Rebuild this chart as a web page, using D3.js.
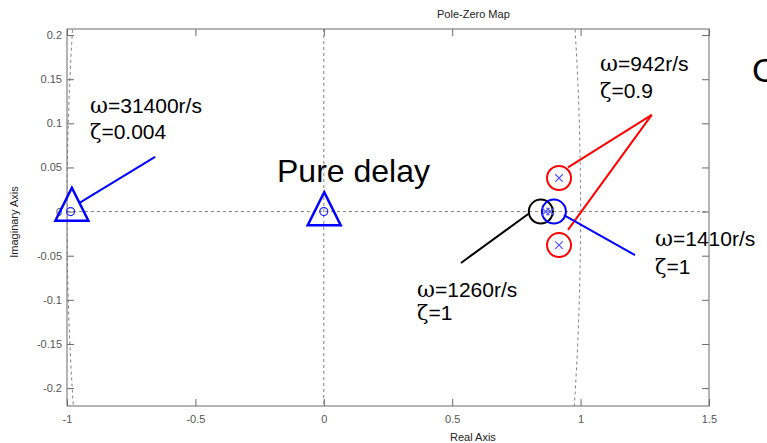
<!DOCTYPE html>
<html><head><meta charset="utf-8">
<script src="https://cdn.jsdelivr.net/npm/d3@7"></script>
<style>body{margin:0;background:#fff}svg{display:block}</style>
</head><body>
<svg id="c" width="767" height="443"></svg>
<script>
// ---- data ----
const xTicks = [-1, -0.5, 0, 0.5, 1, 1.5];
const yTicks = [-0.2, -0.15, -0.1, -0.05, 0, 0.05, 0.1, 0.15, 0.2];
const xTickLabels = ["-1", "-0.5", "0", "0.5", "1", "1.5"];
const yTickLabels = ["-0.2", "-0.15", "-0.1", "-0.05", "0", "0.05", "0.1", "0.15", "0.2"];
const zerosRe = [-0.986, 0.0];
const zerosIm = [0, 0];
const polesRe = [0.916, 0.916, 0.864, 0.882];
const polesIm = [0.038, -0.038, 0, 0];
const trianglesRe = [-0.981, 0.0016];
const trianglesIm = [0.0083, 0.0033];
const ringsRe = [0.916, 0.916, 0.845, 0.896];
const ringsIm = [0.038, -0.038, 0, 0];
const ringColors = ["#ff0000", "#ff0000", "#000000", "#0000ff"];
const leadersX1 = [-0.953, 0.951, 0.951, 0.796, 0.935];
const leadersY1 = [0.0097, 0.0502, -0.0208, -0.0027, -0.0039];
const leadersX2 = [-0.657, 1.277, 1.277, 0.534, 1.212];
const leadersY2 = [0.0619, 0.1095, 0.1095, -0.0582, -0.0492];
const leaderColors = ["#0000ff", "#ff0000", "#ff0000", "#000000", "#0000ff"];
const annW = ["31400r/s", "942r/s", "1410r/s", "1260r/s"];
const annZ = ["0.004", "0.9", "1", "1"];

// ---- layout ----
const svg = d3.select("#c");
const L = 67, R = 709, T = 29, B = 406;
const x = d3.scaleLinear().domain([-1, 1.5]).range([L, R]);
const y = d3.scaleLinear().domain([-0.2203, 0.2069]).range([B, T]);
const sans = "'Liberation Sans', Arial, sans-serif";
const serif = "'DejaVu Serif', 'Liberation Serif', serif";
const axisCol = "#6a6a6a";

svg.append("defs").append("clipPath").attr("id", "clip")
  .append("rect").attr("x", L).attr("y", T).attr("width", R - L).attr("height", B - T);

// grid: unit circle, axes through origin
const g = svg.append("g").attr("clip-path", "url(#clip)");
const dash = "3,3";
g.append("ellipse").attr("cx", x(0)).attr("cy", y(0))
  .attr("rx", x(1) - x(0)).attr("ry", y(0) - y(1))
  .attr("fill", "none").attr("stroke", "#808080").attr("stroke-dasharray", dash);
g.append("line").attr("x1", L).attr("x2", R).attr("y1", y(0)).attr("y2", y(0))
  .attr("stroke", "#808080").attr("stroke-dasharray", dash);
g.append("line").attr("x1", x(0)).attr("x2", x(0)).attr("y1", T).attr("y2", B)
  .attr("stroke", "#808080").attr("stroke-dasharray", dash);

// axes (MATLAB style box with inward ticks)
const tl = 7;
const axB = d3.axisBottom(x).tickValues(xTicks).tickFormat((d, i) => xTickLabels[i]).tickSize(-tl).tickPadding(9);
const axT = d3.axisTop(x).tickValues(xTicks).tickFormat("").tickSize(-tl);
const axL = d3.axisLeft(y).tickValues(yTicks).tickFormat((d, i) => yTickLabels[i]).tickSize(-tl).tickPadding(5);
const axR = d3.axisRight(y).tickValues(yTicks).tickFormat("").tickSize(-tl);
function style(sel) {
  sel.select(".domain").remove();
  sel.selectAll("line").attr("stroke", axisCol);
  sel.selectAll("text").attr("fill", "#555").style("font-family", sans).style("font-size", "11px");
}
svg.append("g").attr("transform", `translate(0,${B})`).call(axB).call(style);
svg.append("g").attr("transform", `translate(0,${T})`).call(axT).call(style);
svg.append("g").attr("transform", `translate(${L},0)`).call(axL).call(style);
svg.append("g").attr("transform", `translate(${R},0)`).call(axR).call(style);
svg.append("rect").attr("x", L).attr("y", T).attr("width", R - L).attr("height", B - T)
  .attr("fill", "none").attr("stroke", axisCol);

// titles
svg.append("text").attr("x", 437).attr("y", 18).text("Pole-Zero Map")
  .style("font-family", sans).style("font-size", "11px").attr("fill", "#222");
svg.append("text").attr("x", 450).attr("y", 441).text("Real Axis")
  .style("font-family", sans).style("font-size", "11px").attr("fill", "#222");
svg.append("text").attr("transform", "translate(18,222) rotate(-90)").attr("text-anchor", "middle")
  .text("Imaginary Axis").style("font-family", sans).style("font-size", "11px").attr("fill", "#222");

// leader lines
const lead = svg.append("g");
leadersX1.forEach((v, i) => {
  lead.append("line").attr("x1", x(v)).attr("y1", y(leadersY1[i]))
    .attr("x2", x(leadersX2[i])).attr("y2", y(leadersY2[i]))
    .attr("stroke", leaderColors[i]).attr("stroke-width", 2);
});

// highlight rings
ringsRe.forEach((v, i) => {
  svg.append("circle").attr("cx", x(v)).attr("cy", y(ringsIm[i])).attr("r", 12)
    .attr("fill", "none").attr("stroke", ringColors[i]).attr("stroke-width", 2);
});

// triangles
const th = 33, tw = 33;
trianglesRe.forEach((v, i) => {
  const cx = x(v), cy = y(trianglesIm[i]);
  svg.append("path")
    .attr("d", `M${cx},${cy - th / 2}L${cx + tw / 2},${cy + th / 2}L${cx - tw / 2},${cy + th / 2}Z`)
    .attr("fill", "none").attr("stroke", "#0000ff").attr("stroke-width", 2.5);
});

// zeros
zerosRe.forEach((v, i) => {
  svg.append("circle").attr("cx", x(v)).attr("cy", y(zerosIm[i])).attr("r", 4)
    .attr("fill", "none").attr("stroke", "#2020ff").attr("stroke-width", 1.2);
});
// poles
polesRe.forEach((v, i) => {
  const cx = x(v), cy = y(polesIm[i]), s = 3.8;
  svg.append("path").attr("d", `M${cx - s},${cy - s}L${cx + s},${cy + s}M${cx - s},${cy + s}L${cx + s},${cy - s}`)
    .attr("stroke", "#5050ff").attr("stroke-width", 1.2);
});

// annotations
const annPos = [[90, 113, 139], [600, 71, 98], [655, 246, 274], [417, 297, 320]];
annPos.forEach((p, i) => {
  const t1 = svg.append("text").attr("x", p[0]).attr("y", p[1]).style("font-size", "21px").attr("fill", "#000");
  t1.append("tspan").text("ω").style("font-family", serif).style("font-size", "22px");
  t1.append("tspan").text("=" + annW[i]).style("font-family", sans);
  const t2 = svg.append("text").attr("x", p[0]).attr("y", p[2]).style("font-size", "21px").attr("fill", "#000");
  t2.append("tspan").text("ζ").style("font-family", serif);
  t2.append("tspan").text("=" + annZ[i]).style("font-family", sans);
});
svg.append("text").attr("x", 277).attr("y", 182).text("Pure delay")
  .style("font-family", sans).style("font-size", "32px").attr("fill", "#000");
svg.append("text").attr("x", 752).attr("y", 82).text("C")
  .style("font-family", sans).style("font-size", "34px").attr("fill", "#000");
</script>
</body></html>
